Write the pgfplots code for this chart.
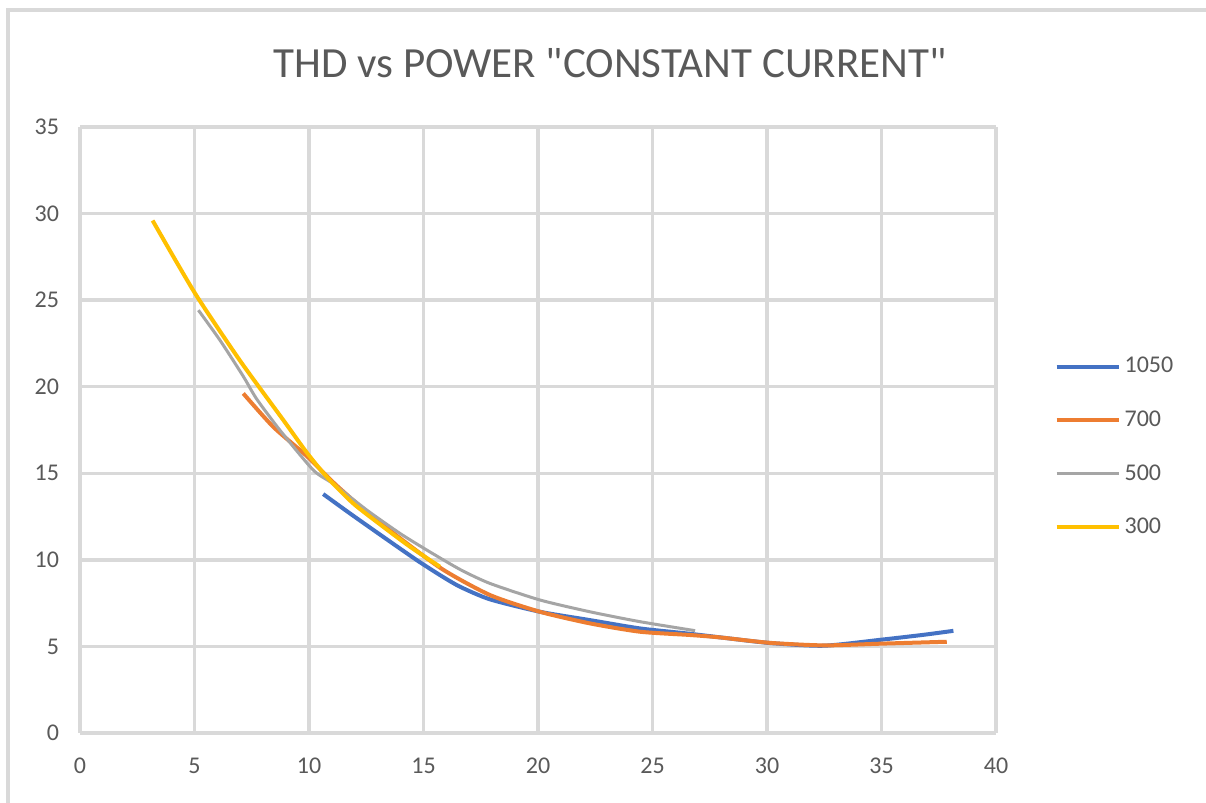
\documentclass[border=0pt]{standalone}
\usepackage{pgfplots}
\pgfplotsset{compat=1.18}
\usepackage{fontspec}
\setmainfont{Carlito}
\newfontfamily\titlefont{Carlito}
\definecolor{cblue}{HTML}{4472C4}
\definecolor{corange}{HTML}{ED7D31}
\definecolor{cgray}{HTML}{A5A5A5}
\definecolor{cyellow}{HTML}{FFC000}
\definecolor{txt}{HTML}{595959}
\definecolor{grd}{HTML}{D9D9D9}
\begin{document}
\begin{tikzpicture}
\path[use as bounding box, fill=white] (-40pt,-35pt) rectangle (563pt,366.5pt);
\draw[grd, line width=2pt] (-36pt,-40pt) -- (-36pt,361.5pt) -- (570pt,361.5pt);
\begin{axis}[
  at={(0,0)}, anchor=south west,
  scale only axis, width=458pt, height=303pt,
  xmin=0, xmax=40, ymin=0, ymax=35,
  xtick={0,5,...,40}, ytick={0,5,...,35},
  grid=major,
  major grid style={grd, line width=1.7pt},
  axis line style={draw=none},
  major tick length=0pt,
  tick label style={font=\fontsize{12}{14}\selectfont, text=txt},
  /pgf/number format/assume math mode=true,
  yticklabel style={xshift=-7pt},
  xticklabel style={yshift=-9pt},
  legend style={at={(1.057,0.472)}, anchor=west, draw=none, fill=none,
    font=\fontsize{12}{14}\selectfont, text=txt, row sep=13.5pt},
  legend cell align=left,
  legend image code/.code={\draw[#1] (0pt,0pt) -- (31pt,0pt);},
]
\addplot[cblue, line width=2pt, smooth, tension=0.4] coordinates {
(10.62,13.8)(11.79,12.68)(13.24,11.33)(14.7,9.99)(15.72,9.12)(16.59,8.45)(17.9,7.72)(20.09,7.0)(22.27,6.52)(24.45,6.04)(26.5,5.75)(28.1,5.5)(30.1,5.2)(32.46,5.04)(35.0,5.39)(36.83,5.67)(38.14,5.9)};
\addlegendentry{1050}
\addplot[corange, line width=2pt, smooth, tension=0.4] coordinates {
(7.13,19.61)(8.44,17.68)(9.9,16.0)(11.2,14.3)(12.95,12.3)(15.72,9.55)(17.9,7.97)(20.09,7.0)(22.27,6.33)(24.45,5.85)(26.64,5.66)(27.95,5.52)(30.1,5.21)(32.46,5.06)(35.0,5.16)(37.85,5.27)};
\addlegendentry{700}
\addplot[cgray, line width=1.5pt, smooth, tension=0.4] coordinates {
(5.17,24.42)(6.11,22.69)(7.13,20.6)(7.71,19.3)(8.73,17.49)(10.19,15.18)(11.06,14.39)(12.52,12.88)(13.97,11.53)(15.14,10.57)(16.59,9.45)(17.9,8.64)(20.09,7.68)(22.27,7.0)(24.45,6.43)(26.86,5.91)};
\addlegendentry{500}
\addplot[cyellow, line width=2pt, smooth, tension=0.4] coordinates {
(3.17,29.6)(5.02,25.4)(6.99,21.5)(8.88,18.07)(9.9,16.2)(10.77,14.8)(11.93,13.26)(13.24,11.91)(14.41,10.76)(15.72,9.6)};
\addlegendentry{300}
\end{axis}
\node[text=txt, font=\titlefont\fontsize{21.5}{26}\selectfont] at (265pt,335pt) {THD vs POWER "CONSTANT CURRENT"};
\end{tikzpicture}
\end{document}
